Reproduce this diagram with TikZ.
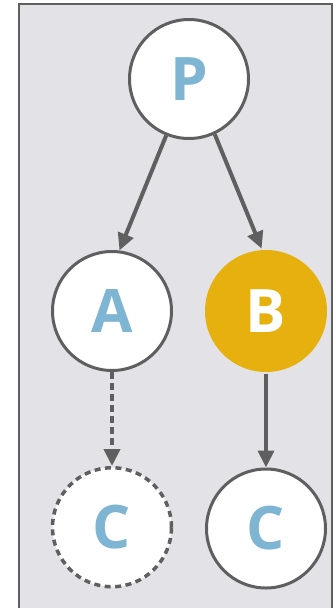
\documentclass[tikz,border=0pt]{standalone}
\usepackage{fontspec}
\setsansfont{Open Sans}
\usepackage{tikz}
\usetikzlibrary{arrows.meta,positioning}
\definecolor{ink}{HTML}{5F5F5F}
\definecolor{panelgray}{HTML}{E3E3E7}
\definecolor{letterblue}{HTML}{7DB5D3}
\definecolor{pickamber}{HTML}{E6B00E}

\begin{document}
\begin{tikzpicture}[
  x=1pt, y=-1pt,
  frame/.style={draw=ink, line width=2pt, fill=panelgray},
  vertex/.style={circle, draw=ink, line width=3pt, fill=white, minimum size=119pt, inner sep=0pt,
    text=letterblue, font=\sffamily\bfseries\fontsize{60}{60}\selectfont},
  picked/.style={vertex, draw=none, fill=pickamber, minimum size=122pt, text=white},
  ghost/.style={vertex, dashed, dash pattern=on 6pt off 4.5pt, line width=3.5pt},
  arrow/.style={-{Triangle[length=17pt,width=16pt]}, line width=4pt, draw=ink},
  dasharrow/.style={arrow, dash pattern=on 7pt off 4pt}
]
\useasboundingbox (0,0) rectangle (335,608);
\draw[frame] (19,4) rectangle (332,640);

\node[vertex] (P) at (189,79) {P};
\node[vertex] (A) at (112,311) {A};
\node[picked] (B) at (266,311) {B};
\node[ghost, below=94pt of A] (Cgone) {C};
\node[vertex, below=94pt of B] (Ckept) {C};

% the two children hang off the parent's lower rim
\draw[arrow] (P.248) -- (A.83);
\draw[arrow] (P.295) -- (B.94);
\draw[dasharrow] (A) -- (Cgone);
\draw[arrow] (B) -- (Ckept);
\end{tikzpicture}
\end{document}
